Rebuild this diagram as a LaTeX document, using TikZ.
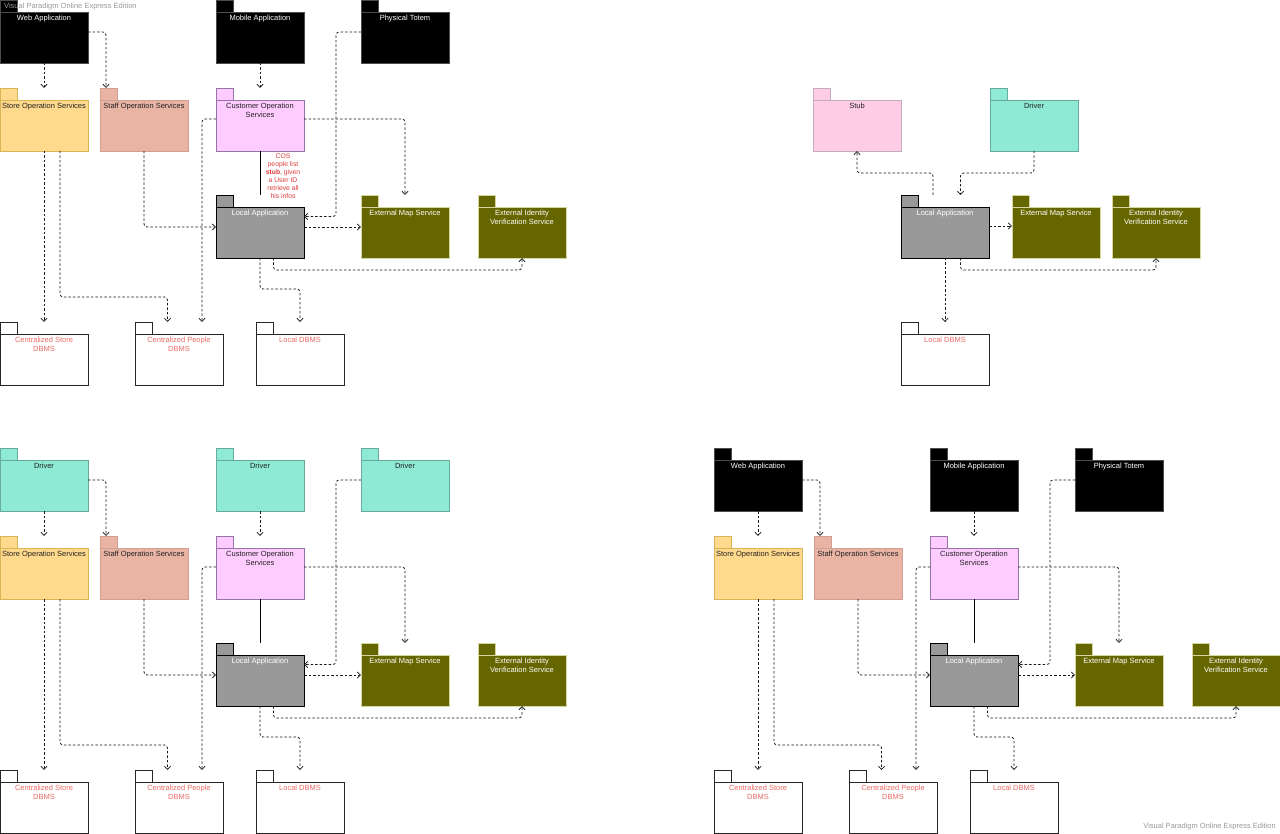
\documentclass[tikz,border=0pt]{standalone}
\usepackage{fontspec}
\setmainfont{Liberation Sans}
\usetikzlibrary{arrows.meta,calc}
\definecolor{cStoreF}{HTML}{FFD98C}
\definecolor{cStoreD}{HTML}{D6B656}
\definecolor{cStaffF}{HTML}{EAB4A5}
\definecolor{cStaffD}{HTML}{CF9F91}
\definecolor{cCustF}{HTML}{FFCCFF}
\definecolor{cCustD}{HTML}{9673A6}
\definecolor{cLocalF}{HTML}{999999}
\definecolor{cExtF}{HTML}{666600}
\definecolor{cExtD}{HTML}{D6D6A0}
\definecolor{cStubF}{HTML}{FFCCE6}
\definecolor{cStubD}{HTML}{C3ABC0}
\definecolor{cDrvF}{HTML}{8EEAD4}
\definecolor{cDrvD}{HTML}{67AB9F}
\definecolor{cDBtext}{HTML}{EA6B66}
\definecolor{cLbl}{HTML}{E03A3A}
\definecolor{cDark}{HTML}{222222}
\tikzset{
  every node/.style={font=\fontsize{7.5}{8.8}\selectfont},
  pkbody/.style={line width=0.8pt, minimum width=88pt, minimum height=51pt, inner sep=0pt, outer sep=0pt},
  pkBlack/.style={fill=black, draw=black!70, text=white},
  pkStore/.style={fill=cStoreF, draw=cStoreD, text=cDark},
  pkStaff/.style={fill=cStaffF, draw=cStaffD, text=cDark},
  pkCust/.style={fill=cCustF, draw=cCustD, text=cDark},
  pkLocal/.style={fill=cLocalF, draw=black, text=white},
  pkExt/.style={fill=cExtF, draw=cExtD, text=white},
  pkStub/.style={fill=cStubF, draw=cStubD, text=cDark},
  pkDrv/.style={fill=cDrvF, draw=cDrvD, text=cDark},
  pkDB/.style={fill=white, draw=black!85, text=cDBtext},
  dep/.style={draw=black!90, line width=0.75pt, dash pattern=on 2.5pt off 2pt, rounded corners=3pt, -{Straight Barb[length=3.2pt,width=6pt,line width=0.75pt]}},
  solidlink/.style={draw=black, line width=1pt},
  lbl/.style={text=cLbl, align=center, inner sep=0pt, font=\fontsize{6.8}{8}\selectfont},
  wm/.style={text=black!40, inner sep=0pt}
}
% name, style, x, y (body north west), text
\newcommand\pkg[5]{%
  \node[pkbody,#2,anchor=north west] (#1) at (#3,#4) {};
  \draw[#2,line width=0.8pt] (#1.north west) rectangle ++(17.5,-12);
  \node[#2,draw=none,fill=none,anchor=north,align=center,inner sep=0pt] (#1t) at ([yshift=-2.8pt]#1.north) {#5};
}
\newcommand\Quadrant[8]{%
  \pkg{#1web}{#2}{0}{12}{#3}
  \pkg{#1mob}{#4}{216}{12}{#5}
  \pkg{#1tot}{#6}{361}{12}{#7}
  \pkg{#1store}{pkStore}{0}{100}{Store Operation Services}
  \pkg{#1staff}{pkStaff}{100}{100}{Staff Operation Services}
  \pkg{#1cust}{pkCust}{216}{100}{Customer Operation\\Services}
  \pkg{#1local}{pkLocal}{216}{207}{Local Application}
  \pkg{#1map}{pkExt}{361}{207}{External Map Service}
  \pkg{#1ident}{pkExt}{478}{207}{External Identity\\Verification Service}
  \pkg{#1cstore}{pkDB}{0}{334}{Centralized Store\\DBMS}
  \pkg{#1people}{pkDB}{135}{334}{Centralized People\\DBMS}
  \pkg{#1ldbms}{pkDB}{256}{334}{Local DBMS}
  \draw[dep] (#1web.south) -- ([yshift=12pt]#1store.north);
  \draw[dep] ([yshift=-20pt]#1web.north east) -| ([xshift=6pt,yshift=12pt]#1staff.north west);
  \draw[dep] (#1mob.south) -- ([yshift=12pt]#1cust.north);
  \draw[dep] ([yshift=-20pt]#1tot.north west) -- ++(-25,0) |- ([yshift=-9.5pt]#1local.north east);
  \draw[dep] ([yshift=-19pt]#1cust.north west) -| ([xshift=-21pt,yshift=12pt]#1people.north east);
  \draw[dep] ([yshift=-19pt]#1cust.north east) -| ([yshift=12pt]#1map.north);
  \draw[solidlink] (#1cust.south) -- ([yshift=12pt]#1local.north);
  \draw[dep] (#1staff.south) |- ([yshift=-20pt]#1local.north west);
  \draw[dep] (#1store.south) -- ([yshift=12pt]#1cstore.north);
  \draw[dep] ([xshift=16pt]#1store.south) -- ++(0,146) -| ([xshift=-11.5pt,yshift=12pt]#1people.north);
  \draw[dep] ([yshift=-20pt]#1local.north east) -- ([yshift=-20pt]#1map.north west);
  \draw[dep] ([xshift=13.5pt]#1local.south) -- ++(0,12) -| (#1ident.south);
  \draw[dep] (#1local.south) -- ++(0,31) -| ([yshift=12pt]#1ldbms.north);
  #8
}
\begin{document}
\begin{tikzpicture}[x=1pt,y=-1pt]
\fill[white] (0,0) rectangle (1280,834);
\useasboundingbox (0,0) rectangle (1280,834);
% top-left
\Quadrant{q1}{pkBlack}{Web Application}{pkBlack}{Mobile Application}{pkBlack}{Physical Totem}{%
  \node[lbl,anchor=north] (q1lbl) at ([xshift=23pt,yshift=-2.5pt]q1cust.south) {COS\\people list\\\textbf{stub}, given\\a User ID\\retrieve all\\his infos};}
% top-right
\pkg{q2stub}{pkStub}{813}{100}{Stub}
\pkg{q2drv}{pkDrv}{990}{100}{Driver}
\pkg{q2local}{pkLocal}{901}{207}{Local Application}
\pkg{q2map}{pkExt}{1012}{207}{External Map Service}
\pkg{q2ident}{pkExt}{1112}{207}{External Identity\\Verification Service}
\pkg{q2ldbms}{pkDB}{901}{334}{Local DBMS}
\draw[dep] ([xshift=32pt,yshift=12pt]q2local.north west) -- ++(0,-22) -| (q2stub.south);
\draw[dep] (q2drv.south) -- ++(0,22) -| ([xshift=15.5pt,yshift=12pt]q2local.north);
\draw[dep] ([yshift=-19pt]q2local.north east) -- ([yshift=-19pt]q2map.north west);
\draw[dep] ([xshift=15.5pt]q2local.south) -- ++(0,12) -| (q2ident.south);
\draw[dep] (q2local.south) -- ([yshift=12pt]q2ldbms.north);
% bottom-left
\begin{scope}[shift={(0,448)}]
\Quadrant{q3}{pkDrv}{Driver}{pkDrv}{Driver}{pkDrv}{Driver}{}
\end{scope}
% bottom-right
\begin{scope}[shift={(714,448)}]
\Quadrant{q4}{pkBlack}{Web Application}{pkBlack}{Mobile Application}{pkBlack}{Physical Totem}{}
\end{scope}
% watermarks
\node[wm,anchor=west] (wm1) at (4,7) {Visual Paradigm Online Express Edition};
\node[wm,anchor=east] (wm2) at (1276,827) {Visual Paradigm Online Express Edition};
\end{tikzpicture}
\end{document}
